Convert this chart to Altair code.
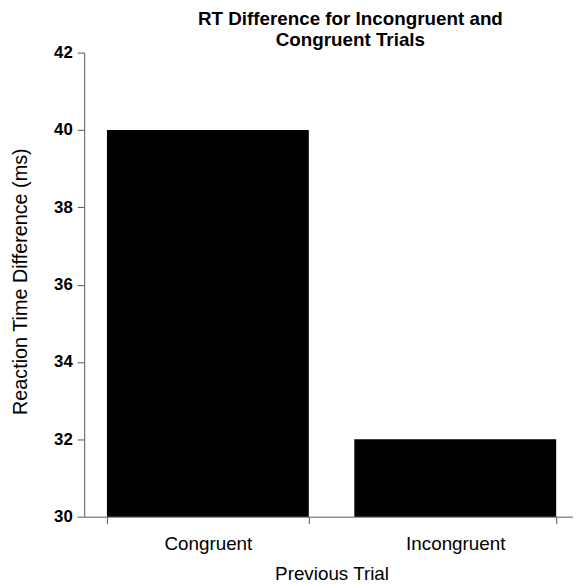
import altair as alt
import pandas as pd

categories = ["Congruent", "Incongruent"]
values = [40, 32]
y_ticks = [30, 32, 34, 36, 38, 40, 42]

df = pd.DataFrame({"Previous Trial": categories, "RT": values})

font = "Liberation Sans"

chart = alt.Chart(df).mark_bar(color="black", clip=True).encode(
    x=alt.X(
        "Previous Trial:N",
        sort=categories,
        scale=alt.Scale(paddingInner=0.184, paddingOuter=0.092),
        axis=alt.Axis(
            title="Previous Trial",
            labelAngle=0,
            tickBand="extent",
            labelFontSize=19,
            titleFontSize=19,
            labelPadding=11,
            titlePadding=12,
            tickSize=7,
            titleX=250,
            domainColor="#555",
            tickColor="#555",
        ),
    ),
    y=alt.Y(
        "RT:Q",
        scale=alt.Scale(domain=[30, 42], nice=False, zero=False),
        axis=alt.Axis(
            title="Reaction Time Difference (ms)",
            values=y_ticks,
            grid=False,
            labelFontSize=17,
            labelFontWeight="bold",
            titleFontSize=20,
            titleFontWeight="normal",
            tickSize=7,
            labelPadding=5,
            titleX=-58,
            titleY=231,
            titleBaseline="alphabetic",
            domainColor="#555",
            tickColor="#555",
        ),
    ),
).properties(
    width=500,
    height=469,
    autosize=alt.AutoSizeParams(type="none"),
    padding={"left": 77, "top": 42, "right": -6, "bottom": 66},
    title=alt.TitleParams(
        text=["RT Difference for Incongruent and", "Congruent Trials"],
        fontSize=19,
        fontWeight="bold",
        lineHeight=21,
        anchor="middle",
        frame="group",
        offset=-6,
        dx=19,
        color="black",
    ),
).configure_view(stroke=None).configure_axis(
    labelFont=font, titleFont=font, labelColor="black", titleColor="black",
    titleFontWeight="normal",
).configure_title(font=font)

chart.save("out.html", embed_options={"renderer": "svg", "actions": False})
